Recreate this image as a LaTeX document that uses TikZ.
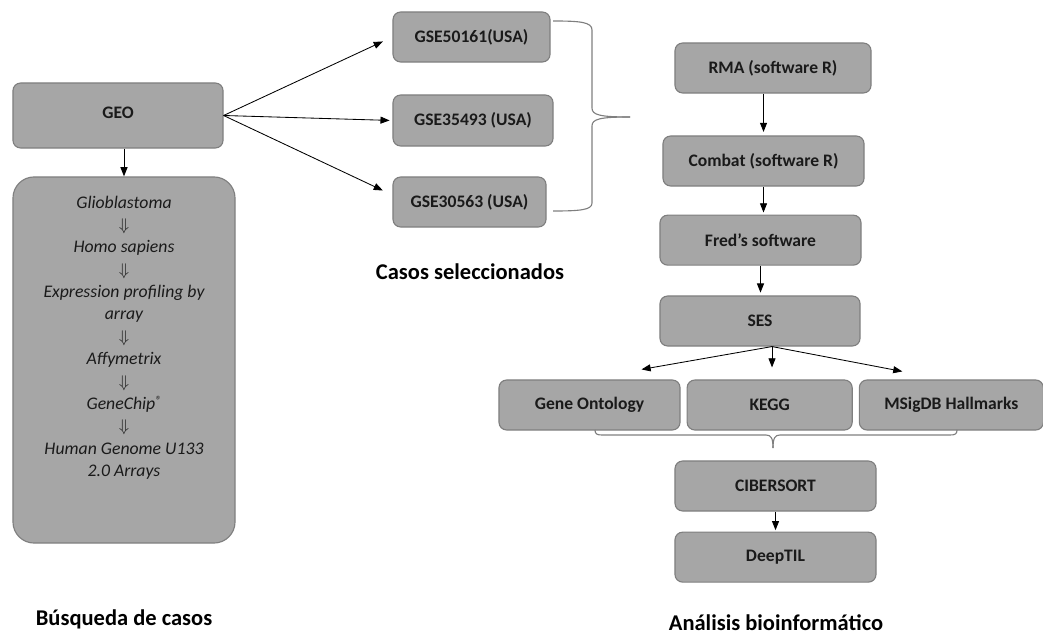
\documentclass[tikz,border=0pt]{standalone}
\usepackage{fontspec}
\setmainfont{Carlito}
\usepackage{tikz}
\usetikzlibrary{positioning}
\usetikzlibrary{calc}
\usetikzlibrary{arrows.meta}
\definecolor{boxfill}{HTML}{A6A6A6}
\definecolor{boxline}{HTML}{7F7F7F}
\definecolor{ink}{HTML}{1A1A1A}

\begin{document}
\begin{tikzpicture}[x=0.025cm, y=-0.025cm,
	box/.style={draw=boxline, fill=boxfill, line width=0.8pt, rounded corners=5.5pt, minimum height=1.25cm, inner sep=0pt, text=ink, font=\bfseries\fontsize{12.5}{14}\selectfont},
	flow/.style={-{Triangle[length=6.5pt,width=5pt]}, line width=0.6pt},
	curly/.style={draw=boxline, line width=0.8pt},
	title/.style={text=black, font=\bfseries\fontsize{16}{19}\selectfont}]
	\useasboundingbox (0,0) rectangle (1043,635);

	% Search
	\node [box, minimum width=5.25cm, minimum height=1.625cm] at (118,115.5) (geo) {\raisebox{0.15cm}{GEO}};
	\node [box, minimum width=5.55cm, minimum height=9.15cm, rounded corners=15pt] at (124,360) (searchbox) {};
	\node [below=0.48cm of searchbox.north, inner sep=0pt, align=center, text=ink, font=\itshape\fontsize{12.6}{15.9}\selectfont] (searchlist) {Glioblastoma\\ $\Downarrow$\\ Homo sapiens\\ $\Downarrow$\\ Expression profiling by\\ array\\ $\Downarrow$\\ Affymetrix\\ $\Downarrow$\\ GeneChip\raisebox{0.55ex}{\fontsize{8.5}{9}\selectfont ®}\\ $\Downarrow$\\ Human Genome U133\\ 2.0 Arrays};
	\node [title] at (124,619) (busqueda) {Búsqueda de casos};

	% Selected series
	\node [box, minimum width=3.925cm] at (471.5,37) (gseA) {GSE50161(USA)};
	\node [box, minimum width=4cm, minimum height=1.275cm] at (473,120.5) (gseB) {GSE35493 (USA)};
	\node [box, minimum width=3.825cm] at (469.5,202) (gseC) {GSE30563 (USA)};
	\node [title] at (470,272) (casos) {Casos seleccionados};

	% Pipeline
	\node [box, minimum width=4.9cm] at (773,68) (rma) {RMA (software R)};
	\node [box, minimum width=5.025cm] at (763.5,161) (combat) {Combat (software R)};
	\node [box, minimum width=5.025cm, below=0.7cm of combat, xshift=-0.075cm] (fred) {Fred’s software};
	\node [box, minimum width=5cm] at (760,321) (ses) {SES};
	\node [box, minimum width=4.525cm] at (589.5,405) (go) {Gene Ontology};
	\node [box, minimum width=4.125cm, right=0.15cm of go] (kegg) {KEGG};
	\node [box, minimum width=4.6cm, right=0.15cm of kegg] (msig) {MSigDB Hallmarks};
	\node [box, minimum width=5.025cm] at (775.5,486) (cibersort) {CIBERSORT};
	\node [box, minimum width=5.025cm, below=0.5cm of cibersort] (deeptil) {DeepTIL};
	\node [title] at (776,623) (analisis) {Análisis bioinformático};

	% Connections
	\draw [flow] (geo.south -| searchbox.north) -- (searchbox.north);
	\draw [flow, shorten >=7.5pt] (geo.east) -- (gseA.west);
	\draw [flow, shorten >=2pt] (geo.east) -- (gseB.west);
	\draw [flow, shorten >=7.5pt] (geo.east) -- ($(gseC.west)+(0,-7)$);
	\draw [flow, shorten >=2.5pt] (rma.south -| combat.north) -- (combat.north);
	\draw [flow, shorten >=1.5pt] (combat.south) -- (combat.south |- fred.north);
	\draw [flow, shorten >=2pt] (fred.south) -- (fred.south |- ses.north);
	\coordinate [xshift=0.3cm] (sesout) at (ses.south);
	\draw [flow] (sesout) -- ($(go.north)+(52,-10)$);
	\draw [flow] (sesout) -- ($(sesout |- kegg.north)+(0,-12)$);
	\draw [flow] (sesout) -- ($(msig.north)+(-49,-8)$);
	\draw [flow, shorten >=1pt] (cibersort.south) -- (deeptil.north);

	% Braces
	\draw [curly] (553,21) .. controls (580,21) and (592,22) .. (592,30) -- (592,108) .. controls (592,115) and (600,117) .. (630,117);
	\draw [curly] (630,117) .. controls (600,117) and (592,119) .. (592,126) -- (592,203) .. controls (592,210) and (580,211) .. (553,211);
	\draw [curly] (595,430) .. controls (595,434) and (597,435) .. (602,435) -- (766,435) .. controls (771,435) and (773,438) .. (773,448);
	\draw [curly] (773,448) .. controls (773,438) and (775,435) .. (780,435) -- (950,435) .. controls (955,435) and (957,434) .. (957,430);
\end{tikzpicture}
\end{document}
